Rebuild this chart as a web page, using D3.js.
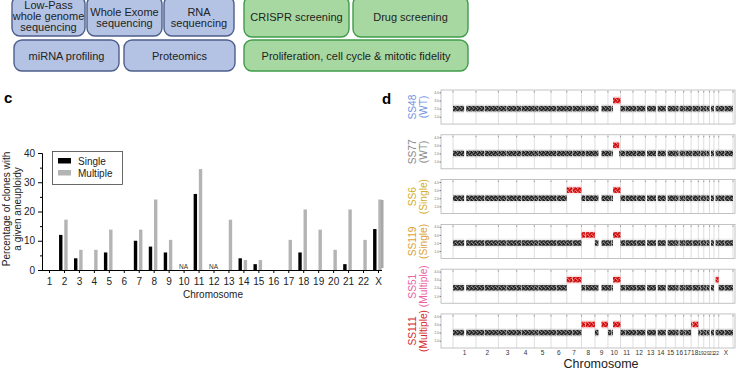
<!DOCTYPE html>
<html>
<head>
<meta charset="utf-8">
<script src="https://cdn.jsdelivr.net/npm/d3@7"></script>
<style>
  body { margin: 0; background: #fff; }
  svg { display: block; font-family: "Liberation Sans", Arial, sans-serif; }
</style>
</head>
<body>
<script>
// ---- data ----
// assay boxes (top)
const blueLabels = [["Low-Pass", "whole genome", "sequencing"], ["Whole Exome", "sequencing"], ["RNA", "sequencing"], ["miRNA profiling"], ["Proteomics"]];
const greenLabels = [["CRISPR screening"], ["Drug screening"], ["Proliferation, cell cycle & mitotic fidelity"]];

// panel c
const chromosomes = ["1","2","3","4","5","6","7","8","9","10","11","12","13","14","15","16","17","18","19","20","21","22","X"];
const singlePct   = [0, 12, 4, 0, 6, 0, 10, 8, 6, null, 26, null, 0, 4, 2, 0, 0, 6, 0, 0, 2, 0, 14];
const multiplePct = [0, 17.2, 6.9, 6.9, 13.8, 0, 13.8, 24.1, 10.3, null, 34.5, null, 17.2, 3.4, 3.4, 0, 10.3, 20.7, 13.8, 6.9, 20.7, 10.3, 24.1];
const yTicksC = [0, 10, 20, 30, 40];
const yMinorC = [5, 15, 25, 35];

// panel d : chromosome sizes (Mb) and regions without reads (Mb)
const chromLengths = [249, 243, 198, 191, 181, 171, 159, 146, 141, 136, 135, 134, 115, 107, 103, 90, 81, 78, 59, 63, 48, 51, 155];
const noReads = [[121,143],[90,96],[88,94],[48,53],[46,50],[58,62],[58,62],[43,48],[38,71],[38,43],[51,55],[34,38],[0,19],[0,19],[0,20],[35,46],[22,26],[15,19],[24,28],[26,30],[0,15],[0,17],[58,62]];

const sampleNames  = ["SS48", "SS77", "SS6", "SS119", "SS51", "SS111"];
const sampleGroups = ["(WT)", "(WT)", "(Single)", "(Single)", "(Multiple)", "(Multiple)"];
const sampleColors = ["#7392df", "#8a8a8a", "#d4ae28", "#dca236", "#ea64a3", "#d42b2f"];
// gained regions: [chromosome, start Mb, end Mb, copies]
const sampleGains = [
  [["10", 55, 136, 3]],
  [["10", 55, 122, 3]],
  [["7", 0, 159, 3], ["10", 55, 136, 3]],
  [["8", 0, 146, 3], ["10", 55, 136, 3]],
  [["7", 0, 159, 3], ["10", 55, 136, 3], ["22", 17, 51, 3]],
  [["8", 0, 146, 3], ["9", 71, 141, 3], ["10", 55, 136, 3], ["18", 0, 78, 3]]
];
const copyTicks = [1, 2, 3, 4];

// ---- svg ----
const svg = d3.select("body").append("svg")
  .attr("width", 750)
  .attr("height", 375);

const defs = svg.append("defs");
// speckle texture for the read clouds
function speckle(id, bg, dark, light) {
  const p = defs.append("pattern").attr("id", id)
    .attr("width", 4).attr("height", 4)
    .attr("patternUnits", "userSpaceOnUse");
  p.append("rect").attr("width", 4).attr("height", 4).attr("fill", bg);
  [[0,0],[2,1],[1,2],[3,3],[3,0]].forEach(([x, y]) =>
    p.append("rect").attr("x", x).attr("y", y).attr("width", 1).attr("height", 1).attr("fill", dark));
  [[1,0],[3,2],[0,3]].forEach(([x, y]) =>
    p.append("rect").attr("x", x).attr("y", y).attr("width", 1).attr("height", 1).attr("fill", light));
}
speckle("greyCloud", "#4a4a4a", "#1e1e1e", "#8c8c8c");
speckle("redCloud", "#e52f2f", "#b30d10", "#f27a7a");

// ---- top boxes ----
const boxes = svg.append("g");
// x, y, w, h, text centre
const blueLayout = [[12, -4, 73, 40, 16], [87, -4, 75, 40, 17.5], [164, -4, 70, 40, 17.5], [14, 40, 105, 31, 55.5], [124, 40, 111, 31, 55.5]];
const greenLayout = [[244, -4, 105, 41, 17], [353, -4, 115, 41, 17], [244, 40, 224, 31, 55.5]];

function drawBoxes(labels, layout, fill, stroke) {
  labels.forEach((lines, i) => {
    const [x, y, w, h, cy] = layout[i];
    boxes.append("rect")
      .attr("x", x).attr("y", y).attr("width", w).attr("height", h)
      .attr("rx", 8).attr("ry", 8)
      .attr("fill", fill).attr("stroke", stroke).attr("stroke-width", 1.4);
    lines.forEach((t, j) => {
      boxes.append("text")
        .attr("x", x + w / 2)
        .attr("y", cy + (j - (lines.length - 1) / 2) * 10.6 + 4)
        .attr("text-anchor", "middle")
        .attr("font-size", 11)
        .attr("fill", "#222")
        .text(t);
    });
  });
}
drawBoxes(blueLabels, blueLayout, "#b4c3e4", "#4f5f8c");
drawBoxes(greenLabels, greenLayout, "#a8d8a1", "#3f9c4b");

// ---- panel c ----
svg.append("text").attr("x", 4).attr("y", 103)
  .attr("font-size", 15).attr("font-weight", "bold").text("c");

const x = d3.scalePoint().domain(chromosomes).range([49, 378]);
const y = d3.scaleLinear().domain([0, 40]).range([270, 153]);
const gc = svg.append("g");

gc.selectAll(".single").data(chromosomes).enter().append("rect")
  .attr("x", d => x(d) - 4.9)
  .attr("width", 3.4)
  .attr("y", (d, i) => y(singlePct[i] || 0))
  .attr("height", (d, i) => y(0) - y(singlePct[i] || 0))
  .attr("fill", "#000");

gc.selectAll(".multiple").data(chromosomes).enter().append("rect")
  .attr("x", d => x(d) + 0.3)
  .attr("width", 3.4)
  .attr("y", (d, i) => y(multiplePct[i] || 0))
  .attr("height", (d, i) => y(0) - y(multiplePct[i] || 0))
  .attr("fill", "#b4b4b4");

gc.selectAll(".na").data(chromosomes.filter((d, i) => singlePct[i] === null)).enter().append("text")
  .attr("x", d => x(d)).attr("y", 268.5)
  .attr("text-anchor", "middle").attr("font-size", 6.5).attr("fill", "#333")
  .text("NA");

const axY = gc.append("g").attr("transform", "translate(42,0)")
  .call(d3.axisLeft(y).tickValues(yTicksC).tickSize(4));
gc.append("g").attr("transform", "translate(42,0)")
  .call(d3.axisLeft(y).tickValues(yMinorC).tickSize(2).tickFormat(""))
  .select(".domain").remove();
axY.selectAll("text").attr("font-size", 10).attr("font-family", "Liberation Sans, Arial").attr("fill", "#222");

const axX = gc.append("g").attr("transform", "translate(0,270)")
  .call(d3.axisBottom(x).tickSize(3).tickSizeOuter(0));
axX.select(".domain").attr("d", "M42,0.5H382");
axX.selectAll("text").attr("font-size", 10).attr("font-family", "Liberation Sans, Arial").attr("fill", "#222").attr("dy", "0.85em");

gc.append("text").attr("x", 213).attr("y", 298)
  .attr("text-anchor", "middle").attr("font-size", 10).attr("fill", "#222").text("Chromosome");
gc.append("text").attr("transform", "translate(10,209) rotate(-90)")
  .attr("text-anchor", "middle").attr("font-size", 10).attr("fill", "#222").text("Percentage of clones with");
gc.append("text").attr("transform", "translate(21,209) rotate(-90)")
  .attr("text-anchor", "middle").attr("font-size", 10).attr("fill", "#222").text("a given aneuploidy");

// legend
const leg = gc.append("g");
leg.append("rect").attr("x", 52.5).attr("y", 151.5).attr("width", 70).attr("height", 33)
  .attr("fill", "#fff").attr("stroke", "#444").attr("stroke-width", 0.8);
[["Single", "#000"], ["Multiple", "#b4b4b4"]].forEach(([t, c], i) => {
  leg.append("rect").attr("x", 58).attr("y", 158 + i * 12).attr("width", 13).attr("height", 5.5).attr("fill", c);
  leg.append("text").attr("x", 78).attr("y", 165 + i * 12).attr("font-size", 10).attr("fill", "#222").text(t);
});

// ---- panel d ----
svg.append("text").attr("x", 382).attr("y", 104)
  .attr("font-size", 15).attr("font-weight", "bold").text("d");
svg.append("rect").attr("x", 381).attr("y", 200).attr("width", 2.5).attr("height", 68).attr("fill", "#a8a8a8");

const starts = Array.from(d3.cumsum([0].concat(chromLengths.slice(0, -1))));
const total = d3.sum(chromLengths);
const gx = d3.scaleLinear().domain([0, total]).range([453, 733]);
const row = d3.scaleBand().domain(sampleNames).range([90, 348]).paddingInner(0.24);

// split covered pieces of one chromosome into normal/gained parts
function pieces(ci, gains) {
  const len = chromLengths[ci], gap = noReads[ci];
  const parts = [[0, gap[0]], [gap[1], len]].filter(p => p[1] > p[0]);
  const out = [];
  parts.forEach(([a, b]) => {
    let cuts = [a, b];
    gains.forEach(g => { cuts.push(Math.max(a, Math.min(b, g[1]))); cuts.push(Math.max(a, Math.min(b, g[2]))); });
    cuts = Array.from(new Set(cuts)).sort((p, q) => p - q);
    for (let k = 0; k < cuts.length - 1; k++) {
      const s = cuts[k], e = cuts[k + 1];
      if (e <= s) continue;
      const g = gains.find(g => g[1] <= s && g[2] >= e);
      out.push({ s: starts[ci] + s, e: starts[ci] + e, copy: g ? g[3] : 2, gain: !!g });
    }
  });
  return out;
}

sampleNames.forEach((name, si) => {
  const top = row(name), h = row.bandwidth();
  const cy = d3.scaleLinear().domain([0.1, 4.3]).range([top + h, top]);
  const g = svg.append("g");

  g.append("rect").attr("x", 441).attr("y", top).attr("width", 294).attr("height", h)
    .attr("fill", "#fff").attr("stroke", "#a9a9a9").attr("stroke-width", 0.7);

  // chromosome boundaries
  const bounds = starts.concat([total]);
  g.selectAll(".b").data(bounds).enter().append("line")
    .attr("x1", d => gx(d)).attr("x2", d => gx(d))
    .attr("y1", top).attr("y2", top + h)
    .attr("stroke", "#c8c8c8").attr("stroke-width", 0.6);
  g.selectAll(".t").data(bounds).enter().append("line")
    .attr("x1", d => gx(d)).attr("x2", d => gx(d))
    .attr("y1", top + 1).attr("y2", top + 2.5)
    .attr("stroke", "#666").attr("stroke-width", 0.6);

  const ax = g.append("g").attr("transform", "translate(441,0)")
    .call(d3.axisLeft(cy).tickValues(copyTicks).tickSize(1.5));
  ax.select(".domain").remove();
  ax.selectAll("line").attr("stroke", "#777");
  ax.selectAll("text").attr("font-size", 3.5).attr("fill", "#777").attr("x", -2);

  const gains = sampleGains[si];
  chromosomes.forEach((c, ci) => {
    const segs = pieces(ci, gains.filter(d => d[0] === c));
    segs.forEach(sg => {
      g.append("rect")
        .attr("x", gx(sg.s)).attr("width", gx(sg.e) - gx(sg.s))
        .attr("y", cy(sg.copy + 0.55)).attr("height", cy(sg.copy - 0.55) - cy(sg.copy + 0.55))
        .attr("fill", sg.gain ? "#f08080" : "#9a9a9a").attr("opacity", 0.18);
      g.append("rect")
        .attr("x", gx(sg.s)).attr("width", gx(sg.e) - gx(sg.s))
        .attr("y", cy(sg.copy + 0.34)).attr("height", cy(sg.copy - 0.34) - cy(sg.copy + 0.34))
        .attr("fill", sg.gain ? "url(#redCloud)" : "url(#greyCloud)");
    });
  });

  // sample label
  const mid = top + h / 2;
  svg.append("text").attr("transform", `translate(416,${mid}) rotate(-90)`)
    .attr("text-anchor", "middle").attr("font-size", 10.2).attr("fill", sampleColors[si]).text(name);
  svg.append("text").attr("transform", `translate(427,${mid}) rotate(-90)`)
    .attr("text-anchor", "middle").attr("font-size", 10.2).attr("fill", sampleColors[si]).text(sampleGroups[si]);
});

svg.selectAll(".cl").data(chromosomes).enter().append("text")
  .attr("x", (d, i) => gx(starts[i] + chromLengths[i] / 2))
  .attr("y", 355)
  .attr("text-anchor", "middle")
  .attr("font-size", (d, i) => chromLengths[i] < 70 ? 5 : 6.5)
  .attr("fill", "#333")
  .text(d => d);

svg.append("text").attr("x", 601).attr("y", 368)
  .attr("text-anchor", "middle").attr("font-size", 12.5).attr("fill", "#222").text("Chromosome");
</script>
</body>
</html>
